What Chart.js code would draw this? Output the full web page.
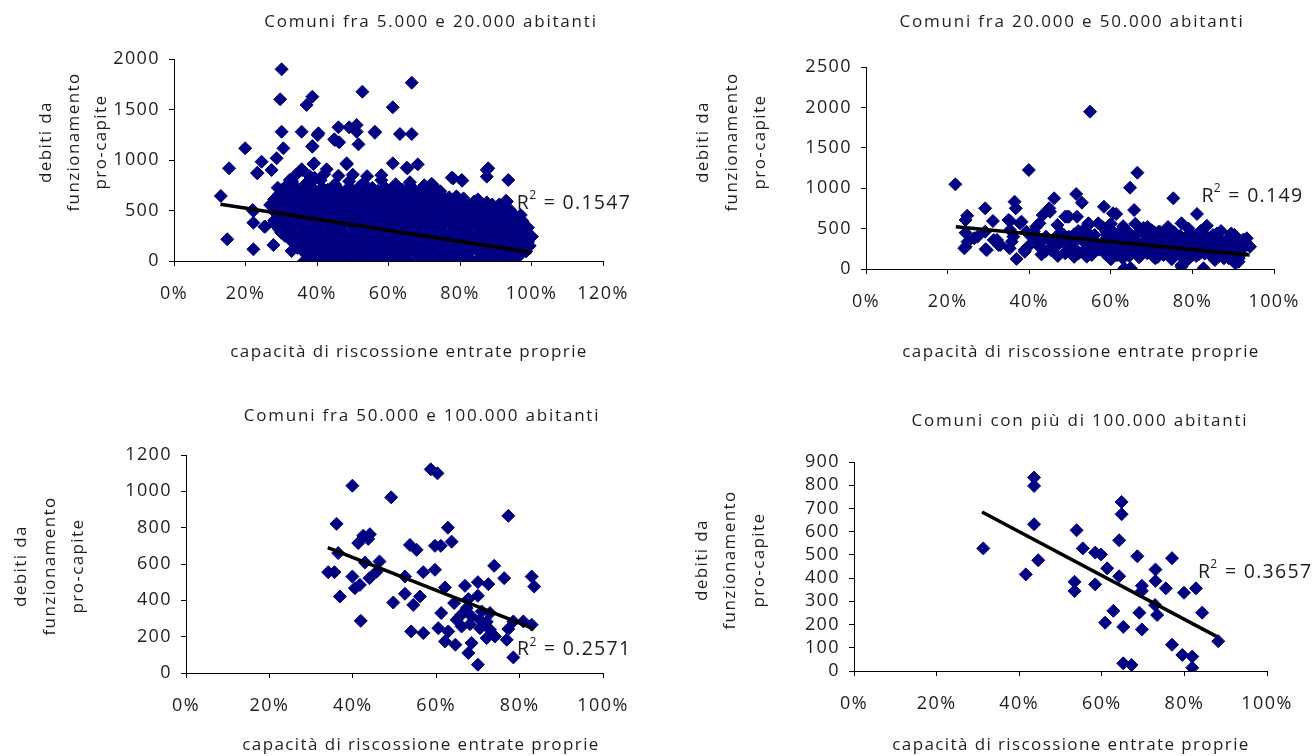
<!DOCTYPE html>
<html><head><meta charset="utf-8">
<script src="https://cdn.jsdelivr.net/npm/chart.js@4.4.0/dist/chart.umd.min.js"></script>
<style>
html,body{margin:0;padding:0;background:#fff;}
#wrap{position:relative;width:1314px;height:756px;overflow:hidden;background:#fff;}
canvas{position:absolute;}
</style></head><body>
<div id="wrap">
<canvas id="c1" width="657" height="378" style="left:0;top:0"></canvas>
<canvas id="c2" width="657" height="378" style="left:657px;top:0"></canvas>
<canvas id="c3" width="657" height="378" style="left:0;top:378px"></canvas>
<canvas id="c4" width="657" height="378" style="left:657px;top:378px"></canvas>
</div>
<script>
// ---------------- DATA ----------------
const titles = [
  'Comuni fra 5.000 e 20.000 abitanti',
  'Comuni fra 20.000 e 50.000 abitanti',
  'Comuni fra 50.000 e 100.000 abitanti',
  'Comuni con più di 100.000 abitanti'
];
const xAxisTitle = 'capacità di riscossione entrate proprie';
const yAxisTitle = ['debiti da', 'funzionamento', 'pro-capite'];

const p1XTicks = [0, 0.2, 0.4, 0.6, 0.8, 1.0, 1.2];
const p1YTicks = [0, 500, 1000, 1500, 2000];
const p2XTicks = [0, 0.2, 0.4, 0.6, 0.8, 1.0];
const p2YTicks = [0, 500, 1000, 1500, 2000, 2500];
const p3XTicks = [0, 0.2, 0.4, 0.6, 0.8, 1.0];
const p3YTicks = [0, 200, 400, 600, 800, 1000, 1200];
const p4XTicks = [0, 0.2, 0.4, 0.6, 0.8, 1.0];
const p4YTicks = [0, 100, 200, 300, 400, 500, 600, 700, 800, 900];

const r2Values = ['0.1547', '0.149', '0.2571', '0.3657'];

// trend lines (start, end)
const p1Trend = [[0.13, 562], [1.00, 84]];
const p2Trend = [[0.22, 523], [0.94, 173]];
const p3Trend = [[0.34, 690], [0.835, 243]];
const p4Trend = [[0.31, 685], [0.88, 147]];

// Comuni fra 5.000 e 20.000 abitanti
const p1Points = [
 [0.301,1898],[0.665,1765],[0.527,1676],[0.297,1601],[0.387,1627],[0.371,1544],[0.612,1522],
 [0.357,1280],[0.404,1264],[0.460,1324],[0.490,1324],[0.511,1346],[0.511,1280],[0.562,1280],
 [0.632,1257],[0.665,1257],[0.301,1280],[0.448,1205],[0.462,1175],[0.516,1155],[0.387,1132],
 [0.199,1116],[0.306,1116],[0.287,1017],[0.245,983],[0.154,918],[0.233,868],[0.273,901],
 [0.357,908],[0.390,960],[0.483,957],[0.427,908],[0.612,967],[0.651,924],[0.682,957],
 [0.393,825],[0.324,802],[0.290,726],[0.719,759],[0.777,825],[0.805,802],[0.875,901],[0.875,835],
 [0.131,644],[0.149,215],[0.222,116],[0.222,495],[0.222,379],[0.253,340],[0.273,561],[0.278,158],
 [0.329,99],[0.364,0],[0.418,0],[0.450,0],[0.478,0],[0.506,0],[0.567,0],[0.623,0],[0.660,0],
 [0.697,0],[0.735,0],[0.763,0],[0.809,0],[0.847,0],[0.724,752],[0.781,818],[0.806,795],
 [0.879,918],[0.935,802],[0.931,587],[0.970,455],[1.001,241],[0.968,59],[0.940,307],
 [0.402,1247],[0.387,1138],[0.450,1198],[0.483,967],[0.392,967],[0.359,901],[0.394,818],
 [0.233,874],[0.255,340],[0.220,505],[0.269,554],[0.366,3],[0.324,769],[0.653,918],[0.721,762],
 [0.929,597],[0.562,1270],
 [0.34,850],[0.38,840],[0.42,860],[0.46,845],[0.50,855],[0.54,840],[0.58,850],
 [0.33,790],[0.37,770],[0.41,800],[0.45,760],[0.49,790],[0.53,770],[0.58,800],[0.62,760],[0.66,780],[0.70,750],
 [0.31,730],[0.345,720],[0.38,740],[0.415,725],[0.45,735],[0.485,715],[0.52,740],[0.555,725],[0.59,730],[0.625,715],[0.66,735],[0.695,720],[0.73,700],
 [0.30,700],[0.325,705],[0.36,695],[0.395,700],[0.43,705],[0.465,695],[0.50,700],[0.535,705],[0.57,695],[0.605,700],[0.64,705],[0.675,695],[0.71,700],[0.745,690],
 [0.295,665],[0.33,675],[0.365,660],[0.40,680],[0.435,665],[0.47,670],[0.505,660],[0.54,680],[0.575,665],[0.61,670],[0.645,660],[0.68,675],[0.715,660],[0.75,650],[0.79,640],
 [0.29,640],[0.315,635],[0.35,645],[0.385,635],[0.42,640],[0.455,645],[0.49,635],[0.525,640],[0.56,645],[0.595,635],[0.63,640],[0.665,645],[0.70,635],[0.735,640],[0.77,630],[0.81,620],[0.85,610],
 [0.28,610],[0.31,605],[0.345,615],[0.38,600],[0.415,610],[0.45,605],[0.49,615],[0.525,600],[0.56,610],[0.595,605],[0.63,615],[0.665,600],[0.70,610],[0.735,600],[0.77,605],[0.805,595],[0.84,590],[0.875,580],
 [0.295,580],[0.33,575],[0.365,585],[0.40,575],[0.435,580],[0.47,585],[0.505,575],[0.54,580],[0.575,585],[0.61,575],[0.645,580],[0.68,585],[0.715,575],[0.75,580],[0.785,575],[0.82,570],[0.855,565],[0.89,560],[0.91,560],
 [0.295,550],[0.33,545],[0.365,555],[0.40,545],[0.435,550],[0.47,540],[0.505,555],[0.54,545],[0.575,550],[0.61,540],[0.645,555],[0.68,545],[0.715,550],[0.75,540],[0.785,550],[0.82,545],[0.855,535],[0.89,540],[0.925,525],
 [0.28,520],[0.315,515],[0.35,525],[0.385,515],[0.42,520],[0.455,525],[0.49,515],[0.525,520],[0.56,525],[0.595,515],[0.63,520],[0.665,525],[0.70,515],[0.735,520],[0.77,525],[0.805,515],[0.84,520],[0.875,510],[0.91,515],[0.94,505],
 [0.28,490],[0.315,485],[0.35,495],[0.385,485],[0.42,490],[0.455,480],[0.49,495],[0.525,485],[0.56,490],[0.595,480],[0.63,495],[0.665,485],[0.70,490],[0.735,480],[0.77,495],[0.805,485],[0.84,490],[0.875,480],[0.91,485],[0.945,470],
 [0.295,460],[0.33,455],[0.365,465],[0.40,455],[0.435,460],[0.47,465],[0.505,455],[0.54,460],[0.575,465],[0.61,455],[0.645,460],[0.68,465],[0.715,455],[0.75,460],[0.785,465],[0.82,455],[0.855,460],[0.89,455],[0.925,450],[0.955,445],
 [0.295,430],[0.33,425],[0.365,435],[0.40,420],[0.435,430],[0.47,425],[0.505,435],[0.54,420],[0.575,430],[0.61,425],[0.645,435],[0.68,420],[0.715,430],[0.75,425],[0.785,435],[0.82,420],[0.855,430],[0.89,425],[0.925,415],[0.96,420],
 [0.28,400],[0.315,395],[0.35,405],[0.385,395],[0.42,400],[0.455,405],[0.49,395],[0.525,400],[0.56,405],[0.595,395],[0.63,400],[0.665,405],[0.70,395],[0.735,400],[0.77,405],[0.805,395],[0.84,400],[0.875,405],[0.91,395],[0.945,390],[0.975,395],
 [0.28,370],[0.315,365],[0.35,375],[0.385,360],[0.42,370],[0.455,365],[0.49,375],[0.525,360],[0.56,370],[0.595,365],[0.63,375],[0.665,360],[0.70,370],[0.735,365],[0.77,375],[0.805,360],[0.84,370],[0.875,365],[0.91,360],[0.945,370],[0.975,355],
 [0.295,340],[0.33,335],[0.365,345],[0.40,335],[0.435,340],[0.47,345],[0.505,335],[0.54,340],[0.575,345],[0.61,335],[0.645,340],[0.68,345],[0.715,335],[0.75,340],[0.785,345],[0.82,335],[0.855,340],[0.89,345],[0.925,335],[0.96,340],[0.99,330],
 [0.295,310],[0.33,305],[0.365,315],[0.40,300],[0.435,310],[0.47,305],[0.505,315],[0.54,300],[0.575,310],[0.61,305],[0.645,315],[0.68,300],[0.715,310],[0.75,305],[0.785,315],[0.82,300],[0.855,310],[0.89,305],[0.925,300],[0.96,310],
 [0.30,280],[0.33,275],[0.365,285],[0.40,275],[0.435,280],[0.47,285],[0.505,275],[0.54,280],[0.575,285],[0.61,275],[0.645,280],[0.68,285],[0.715,275],[0.75,280],[0.785,285],[0.82,275],[0.855,280],[0.89,285],[0.925,275],[0.96,280],[0.99,270],
 [0.31,250],[0.345,245],[0.38,255],[0.415,240],[0.45,250],[0.485,245],[0.52,255],[0.555,240],[0.59,250],[0.625,245],[0.66,255],[0.695,240],[0.73,250],[0.765,245],[0.80,255],[0.835,240],[0.87,250],[0.905,245],[0.94,240],[0.975,250],[1.0,240],
 [0.325,220],[0.36,215],[0.395,225],[0.43,215],[0.465,220],[0.50,225],[0.535,215],[0.57,220],[0.605,225],[0.64,215],[0.675,220],[0.71,225],[0.745,215],[0.78,220],[0.815,225],[0.85,215],[0.885,220],[0.92,225],[0.955,215],[0.985,220],
 [0.33,190],[0.365,185],[0.40,195],[0.435,180],[0.47,190],[0.505,185],[0.54,195],[0.575,180],[0.61,190],[0.645,185],[0.68,195],[0.715,180],[0.75,190],[0.785,185],[0.82,195],[0.855,180],[0.89,190],[0.925,185],[0.96,180],[0.99,190],
 [0.34,160],[0.375,155],[0.41,165],[0.445,155],[0.48,160],[0.515,165],[0.55,155],[0.585,160],[0.62,165],[0.655,155],[0.69,160],[0.725,165],[0.76,155],[0.795,160],[0.83,165],[0.865,155],[0.90,160],[0.935,165],[0.97,155],
 [0.345,130],[0.38,125],[0.415,135],[0.45,120],[0.485,130],[0.52,125],[0.555,135],[0.59,120],[0.625,130],[0.66,125],[0.695,135],[0.73,120],[0.765,130],[0.80,125],[0.835,135],[0.87,120],[0.905,130],[0.94,125],[0.975,115],[0.995,150],
 [0.36,100],[0.395,95],[0.43,105],[0.465,95],[0.50,100],[0.535,105],[0.57,95],[0.605,100],[0.64,105],[0.675,95],[0.71,100],[0.745,105],[0.78,95],[0.815,100],[0.85,105],[0.885,95],[0.92,100],[0.955,90],[0.985,95],
 [0.37,70],[0.40,65],[0.435,75],[0.47,60],[0.505,70],[0.54,65],[0.575,75],[0.61,60],[0.645,70],[0.68,65],[0.715,75],[0.75,60],[0.785,70],[0.82,65],[0.855,75],[0.89,60],[0.925,70],[0.96,55],
 [0.39,40],[0.455,35],[0.52,45],[0.555,35],[0.625,40],[0.69,45],[0.725,35],[0.795,40],[0.86,45],[0.905,35],[0.945,40],
 [0.42,15],[0.48,20],[0.53,10],[0.59,15],[0.65,20],[0.71,10],[0.77,15],[0.83,20],[0.88,10],[0.93,15]
];

// Comuni fra 20.000 e 50.000 abitanti
const p2Points = [
 [0.219,1048],[0.399,1225],[0.549,1947],[0.665,1192],[0.647,1006],[0.753,875],[0.515,928],[0.529,821],
 [0.583,771],[0.613,681],[0.657,730],[0.811,681],[0.773,566],[0.835,536],[0.545,566],[0.493,647],
 [0.903,421],[0.933,380],[0.941,276],[0.647,5],[0.633,9],[0.827,9],[0.773,50],[0.705,152],[0.605,194],
 [0.541,152],[0.889,132],[0.913,90],
 [0.248,660],[0.244,606],[0.292,751],[0.311,594],[0.244,449],[0.244,276],[0.265,380],[0.292,462],
 [0.296,235],[0.321,359],[0.329,297],[0.352,256],[0.364,833],[0.367,751],[0.353,594],[0.377,566],
 [0.369,124],[0.389,235],[0.361,400],[0.461,875],[0.451,709],[0.433,668],[0.425,566],[0.411,462],
 [0.441,400],[0.425,276],[0.453,235],[0.469,297],[0.417,359],[0.397,276],[0.485,421],[0.488,647],[0.488,194],
 [0.381,585],[0.349,606],[0.605,689],[0.449,751],[0.497,647],[0.517,647],[0.545,545],[0.569,566],
 [0.589,462],[0.469,545],[0.417,524],[0.393,462],[0.353,483],[0.313,359],[0.273,400],[0.249,338],
 [0.241,256],[0.293,244],[0.325,297],[0.357,338],[0.389,214],[0.425,318],[0.457,276],[0.489,214],
 [0.521,194],[0.553,173],[0.585,194],[0.497,400],[0.529,359],[0.561,338],[0.597,297],[0.545,441],[0.409,380],
 [0.689,441],[0.717,462],[0.745,421],[0.797,441],[0.825,400],[0.865,380],[0.677,318],[0.713,297],
 [0.753,276],[0.785,297],[0.825,276],[0.861,256],[0.889,235],[0.689,194],[0.729,173],[0.769,173],
 [0.809,161],[0.849,145],[0.877,132],[0.913,132],[0.649,235],[0.609,256],[0.641,400],[0.601,380],
 [0.649,9],[0.773,29],[0.905,70],[0.705,380],[0.765,359],[0.809,338],[0.849,338],[0.665,338],
 [0.633,318],[0.881,318],[0.629,132],[0.669,145],[0.709,132],[0.749,120],[0.789,120],[0.589,173],[0.909,338],
 [0.46,300],[0.50,320],[0.54,260],[0.57,240],[0.48,440],[0.52,470],[0.56,420],[0.59,380],[0.62,300],
 [0.64,470],[0.66,420],[0.58,520],[0.63,530],[0.66,560],[0.68,510],[0.70,480],[0.74,520],[0.79,500],[0.87,470],
 [0.62,230],[0.66,270],[0.70,250],[0.74,230],[0.78,220],[0.82,210],[0.86,200],[0.90,180],[0.72,350],
 [0.76,330],[0.80,300],[0.84,280],[0.88,270],[0.92,250],[0.69,390],[0.73,400],[0.77,410],[0.81,370],
 [0.85,420],[0.89,390],[0.60,560],[0.69,520],[0.72,460],[0.82,470],[0.86,440],[0.43,180],[0.47,160],
 [0.51,150],[0.55,210],[0.60,120],[0.45,350],[0.51,260],[0.57,280],[0.53,380],[0.61,440],[0.65,200],
 [0.70,300],[0.75,160],[0.79,250],[0.83,190],[0.87,300],[0.92,190],
 [0.615,215],[0.645,160],[0.675,225],[0.735,200],[0.765,265],[0.795,185],[0.835,235],[0.875,175],
 [0.905,215],[0.625,365],[0.655,300],[0.685,355],[0.725,320],[0.745,250],[0.805,270],[0.835,310],
 [0.865,330],[0.895,295],[0.925,320],[0.625,420],[0.675,470],[0.705,430],[0.755,455],[0.775,370],
 [0.815,420],[0.845,385],[0.895,440],[0.925,365],[0.635,260],[0.715,150],[0.795,150],[0.855,110],
 [0.755,320],[0.685,280],
 [0.605,330],[0.625,470],[0.645,380],[0.665,250],[0.685,420],[0.705,200],[0.725,270],[0.745,380],
 [0.765,220],[0.785,340],[0.805,230],[0.825,350],[0.845,250],[0.865,160],[0.885,340],[0.905,260],
 [0.925,280],[0.615,170],[0.655,240],[0.695,330],[0.735,440],[0.775,270],[0.815,180],[0.855,220],
 [0.895,210],[0.935,300],[0.625,290],[0.665,190],[0.705,460],[0.745,190],[0.785,400],[0.825,450],
 [0.865,290],[0.905,400],[0.58,330],[0.55,300],[0.52,380],[0.50,250],[0.47,420],[0.56,220],[0.59,430],
 [0.53,470],[0.44,220],[0.48,340],[0.51,430]
];

// Comuni fra 50.000 e 100.000 abitanti
const p3Points = [
 [0.399,1031],[0.492,967],[0.361,821],[0.413,715],[0.425,756],[0.441,764],[0.437,738],[0.365,660],
 [0.429,608],[0.464,614],[0.341,555],[0.356,555],[0.399,531],[0.405,467],[0.417,485],[0.440,522],
 [0.457,558],[0.369,421],[0.497,388],[0.419,287],
 [0.587,1121],[0.603,1099],[0.773,865],[0.628,800],[0.637,723],[0.537,705],[0.553,678],[0.597,700],
 [0.611,700],[0.739,590],[0.763,522],[0.829,531],[0.835,476],[0.569,555],[0.597,568],[0.525,531],
 [0.669,480],[0.700,500],[0.725,489],[0.621,471],[0.525,436],[0.561,421],[0.545,375],[0.643,385],
 [0.700,425],[0.677,407],[0.612,330],[0.660,320],[0.685,311],[0.705,293],[0.721,282],[0.661,256],
 [0.681,269],[0.705,247],[0.729,238],[0.741,201],[0.721,192],[0.605,247],[0.629,229],[0.540,229],
 [0.569,220],[0.785,284],[0.809,284],[0.829,266],[0.773,242],[0.769,183],[0.621,174],[0.646,156],
 [0.685,165],[0.677,110],[0.785,86],[0.700,46],[0.709,339],[0.729,330],[0.649,293],[0.673,357]
];

// Comuni con più di 100.000 abitanti
const p4Points = [
 [0.313,528],[0.436,833],[0.436,797],[0.436,632],[0.446,477],[0.416,416],
 [0.539,606],[0.554,528],[0.584,510],[0.598,502],[0.648,728],[0.648,675],[0.642,563],[0.686,494],
 [0.770,486],[0.613,442],[0.642,408],[0.730,437],[0.730,388],[0.534,384],[0.534,344],[0.584,373],
 [0.697,367],[0.697,345],[0.755,356],[0.799,337],[0.828,356],[0.729,284],[0.734,241],[0.691,251],
 [0.843,251],[0.628,259],[0.608,208],[0.652,190],[0.697,179],[0.770,113],[0.795,69],[0.819,62],
 [0.819,14],[0.652,33],[0.672,26],[0.882,128]
];

// ---------------- RENDERING ----------------
const MARKER = '#000080';
const TEXT = '#1e1e1e';
const FONT = '"Open Sans", "Noto Sans", sans-serif';

const pct = v => Math.round(v * 100) + '%';
const toXY = arr => arr.map(p => ({x: p[0], y: p[1]}));

const panels = [
  {id:'c1', ox:0, oy:0, L:174, R:603, T:59, B:261, xt:p1XTicks, yt:p1YTicks, pts:p1Points, trend:p1Trend,
   r2:r2Values[0], r2at:[0.959, 574], title:titles[0], titleX:431, titleY:22, xTitleX:409, xTitleY:352,
   yTitleX:[46, 74, 101], yTitleY:142},
  {id:'c2', ox:657, oy:0, L:866, R:1283, T:67, B:269, xt:p2XTicks, yt:p2YTicks, pts:p2Points, trend:p2Trend,
   r2:r2Values[1], r2at:[0.822, 903], title:titles[1], titleX:1072, titleY:22, xTitleX:1081, xTitleY:352,
   yTitleX:[703, 732, 760], yTitleY:142},
  {id:'c3', ox:0, oy:378, L:186, R:603, T:455, B:673, xt:p3XTicks, yt:p3YTicks, pts:p3Points, trend:p3Trend,
   r2:r2Values[2], r2at:[0.794, 128], title:titles[2], titleX:422, titleY:416, xTitleX:421, xTitleY:745,
   yTitleX:[21, 50, 78], yTitleY:566},
  {id:'c4', ox:657, oy:378, L:854, R:1267, T:462, B:671, xt:p4XTicks, yt:p4YTicks, pts:p4Points, trend:p4Trend,
   r2:r2Values[3], r2at:[0.833, 426], title:titles[3], titleX:1080, titleY:421, xTitleX:1071, xTitleY:745,
   yTitleX:[702, 730, 759], yTitleY:560}
];

const textPlugin = {
  id: 'panelText',
  beforeDraw(chart) {
    chart.ctx.letterSpacing = '1.4px';
  },
  afterDraw(chart, args, opts) {
    const p = opts.panel;
    const ctx = chart.ctx;
    ctx.save();
    ctx.fillStyle = TEXT;
    ctx.textAlign = 'center';
    ctx.textBaseline = 'middle';
    ctx.letterSpacing = '1.8px';
    ctx.font = '17px ' + FONT;
    ctx.fillText(p.title, p.titleX - p.ox, p.titleY - p.oy);
    ctx.letterSpacing = '1.4px';
    ctx.fillText(xAxisTitle, p.xTitleX - p.ox, p.xTitleY - p.oy);
    yAxisTitle.forEach((line, i) => {
      ctx.save();
      ctx.translate(p.yTitleX[i] - p.ox, p.yTitleY - p.oy);
      ctx.rotate(-Math.PI / 2);
      ctx.fillText(line, 0, 0);
      ctx.restore();
    });
    // R² label
    const px = chart.scales.x.getPixelForValue(p.r2at[0]);
    const py = chart.scales.y.getPixelForValue(p.r2at[1]);
    ctx.textAlign = 'left';
    ctx.letterSpacing = '1.3px';
    ctx.font = '19.5px ' + FONT;
    ctx.fillText('R', px, py);
    let w = ctx.measureText('R').width;
    ctx.font = '12px ' + FONT;
    ctx.fillText('2', px + w - 1, py - 7);
    w += ctx.measureText('2').width - 1;
    ctx.font = '19.5px ' + FONT;
    ctx.fillText(' = ' + p.r2, px + w, py);
    ctx.restore();
  }
};

panels.forEach(p => {
  const W = 657, H = 378;
  const xs = p.xt, ys = p.yt;
  new Chart(document.getElementById(p.id), {
    type: 'scatter',
    data: {
      datasets: [
        {
          data: toXY(p.trend), showLine: true, borderColor: '#000', borderWidth: 3.5,
          pointRadius: 0, pointHoverRadius: 0, order: 0
        },
        {
          data: toXY(p.pts), pointStyle: 'rectRot', pointRadius: 6.5, pointHoverRadius: 6.5,
          backgroundColor: MARKER, borderColor: MARKER, borderWidth: 1, order: 1
        }
      ]
    },
    options: {
      responsive: false,
      animation: false,
      events: [],
      layout: { padding: { left: 0, top: p.T - p.oy, right: p.ox + W - p.R, bottom: 0 } },
      plugins: { legend: { display: false }, tooltip: { enabled: false }, title: { display: false },
                 panelText: { panel: p } },
      scales: {
        x: {
          type: 'linear', min: xs[0], max: xs[xs.length - 1],
          afterFit: s => { s.height = p.oy + H - p.B; },
          afterBuildTicks: s => { s.ticks = xs.map(v => ({value: v})); },
          ticks: { callback: v => pct(v), color: TEXT, font: { family: FONT, size: 18 }, padding: 17,
                   autoSkip: false, maxRotation: 0 },
          grid: { display: true, drawOnChartArea: false, drawTicks: true, tickLength: 5, color: '#000', lineWidth: 1 },
          border: { display: true, color: '#000', width: 1 }
        },
        y: {
          type: 'linear', min: ys[0], max: ys[ys.length - 1],
          afterFit: s => { s.width = p.L - p.ox; },
          afterBuildTicks: s => { s.ticks = ys.map(v => ({value: v})); },
          ticks: { callback: v => String(v), color: TEXT, font: { family: FONT, size: 18 }, padding: 9,
                   autoSkip: false },
          grid: { display: true, drawOnChartArea: false, drawTicks: true, tickLength: 5, color: '#000', lineWidth: 1 },
          border: { display: true, color: '#000', width: 1 }
        }
      }
    },
    plugins: [textPlugin]
  });
});
</script>
</body></html>
